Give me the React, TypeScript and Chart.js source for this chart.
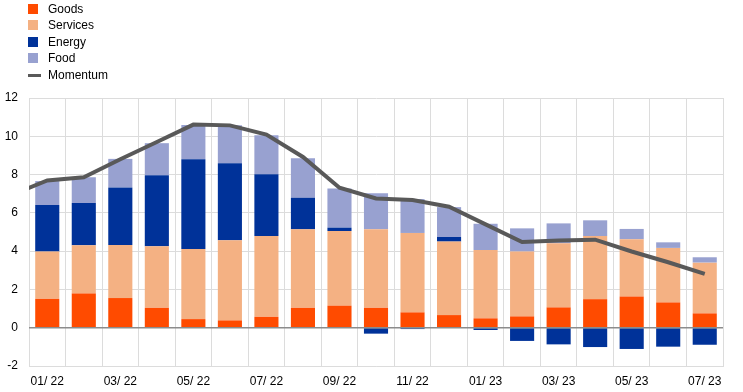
import React, { useEffect, useRef } from "react";
import { Chart, registerables } from "chart.js";

Chart.register(...registerables);

const labels = [
  "01/ 22", "02/ 22", "03/ 22", "04/ 22", "05/ 22", "06/ 22", "07/ 22", "08/ 22", "09/ 22", "10/ 22",
  "11/ 22", "12/ 22", "01/ 23", "02/ 23", "03/ 23", "04/ 23", "05/ 23", "06/ 23", "07/ 23",
];

const goods = [1.51, 1.79, 1.55, 1.04, 0.45, 0.38, 0.57, 1.04, 1.15, 1.04, 0.8, 0.66, 0.49, 0.59, 1.06, 1.49, 1.63, 1.32, 0.75];
const services = [2.47, 2.52, 2.77, 3.21, 3.66, 4.19, 4.22, 4.1, 3.9, 4.1, 4.15, 3.84, 3.57, 3.39, 3.35, 3.3, 2.99, 2.85, 2.65];
const energy = [2.43, 2.2, 3.01, 3.72, 4.69, 4.02, 3.23, 1.65, 0.18, -0.31, -0.07, 0.24, -0.12, -0.69, -0.87, -1.01, -1.11, -0.99, -0.89];
const food = [1.25, 1.35, 1.49, 1.67, 1.79, 1.98, 2.03, 2.06, 2.04, 1.89, 1.77, 1.56, 1.37, 1.21, 1.04, 0.82, 0.54, 0.29, 0.28];
const momentumPrev = 6.93; // 12/21, clipped at the plot's left edge
const momentum = [7.69, 7.86, 8.8, 9.7, 10.61, 10.57, 10.09, 8.92, 7.31, 6.75, 6.67, 6.32, 5.4, 4.48, 4.55, 4.6, 3.98, 3.42, 2.81];

const yMin = -2;
const yMax = 12;
const yStep = 2;

const COLORS = {
  goods: "#FF4B00",
  services: "#F4B183",
  energy: "#003299",
  food: "#98A1D0",
  momentum: "#595959",
};

const FONT = '"Liberation Sans", Arial, sans-serif';

const zeroLinePlugin = {
  id: "zeroLine",
  afterDatasetsDraw(chart: any) {
    const y = chart.scales.y.getPixelForValue(0);
    const { left, right } = chart.chartArea;
    const ctx = chart.ctx;
    ctx.save();
    ctx.strokeStyle = "#8c8c8c";
    ctx.lineWidth = 1.5;
    ctx.beginPath();
    ctx.moveTo(left, y);
    ctx.lineTo(right, y);
    ctx.stroke();
    ctx.restore();
  },
};

const legendItems = [
  { label: "Goods", color: COLORS.goods, kind: "box" },
  { label: "Services", color: COLORS.services, kind: "box" },
  { label: "Energy", color: COLORS.energy, kind: "box" },
  { label: "Food", color: COLORS.food, kind: "box" },
  { label: "Momentum", color: COLORS.momentum, kind: "line" },
];

export default function App() {
  const ref = useRef<HTMLCanvasElement | null>(null);

  useEffect(() => {
    if (!ref.current) return;
    const barCommon = {
      type: "bar" as const,
      stack: "s",
      xAxisID: "x",
      yAxisID: "y",
      order: 1,
      grouped: false,
      categoryPercentage: 1,
      barPercentage: 0.66,
      borderWidth: 0,
    };
    const chart = new Chart(ref.current, {
      type: "bar",
      data: {
        labels,
        datasets: [
          { ...barCommon, label: "Goods", data: goods, backgroundColor: COLORS.goods },
          { ...barCommon, label: "Services", data: services, backgroundColor: COLORS.services },
          { ...barCommon, label: "Energy", data: energy, backgroundColor: COLORS.energy },
          { ...barCommon, label: "Food", data: food, backgroundColor: COLORS.food },
          {
            type: "line" as const,
            label: "Momentum",
            xAxisID: "x2",
            yAxisID: "y2",
            order: 0,
            data: [{ x: -1, y: momentumPrev }, ...momentum.map((v, i) => ({ x: i, y: v }))] as any,
            borderColor: COLORS.momentum,
            backgroundColor: COLORS.momentum,
            borderWidth: 4,
            pointRadius: 0,
            tension: 0,
            clip: 0 as any,
          },
        ] as any,
      },
      options: {
        animation: false,
        responsive: true,
        maintainAspectRatio: false,
        layout: { padding: { top: 98, right: 20, left: 0, bottom: 0 } },
        plugins: { legend: { display: false }, tooltip: { enabled: false } },
        scales: {
          x: {
            type: "category",
            stacked: true,
            offset: true,
            grid: { offset: true, color: "#dcdcdc", lineWidth: 1, drawTicks: false },
            border: { color: "#dcdcdc" },
            ticks: {
              autoSkip: false,
              maxRotation: 0,
              padding: 8,
              color: "#000",
              font: { family: FONT, size: 12 },
              callback: (_v: any, i: number) => (i % 2 === 0 ? labels[i] : ""),
            },
            afterFit: (s: any) => {
              s.height = 26;
            },
          },
          x2: {
            type: "linear",
            display: false,
            offset: false,
            min: -0.5,
            max: labels.length - 0.5,
          },
          y: {
            stacked: true,
            min: yMin,
            max: yMax,
            grid: { color: "#dcdcdc", lineWidth: 1, drawTicks: false },
            border: { color: "#dcdcdc" },
            ticks: {
              stepSize: yStep,
              padding: 11,
              color: "#000",
              font: { family: FONT, size: 12 },
            },
            afterFit: (s: any) => {
              s.width = 29;
            },
          },
          y2: {
            type: "linear",
            display: false,
            stacked: false,
            min: yMin,
            max: yMax,
          },
        },
      } as any,
      plugins: [zeroLinePlugin],
    });
    return () => chart.destroy();
  }, []);

  return (
    <div style={{ position: "absolute", left: 0, top: 0, width: 743, height: 392, background: "#fff" }}>
      <canvas ref={ref} />
      <div style={{ position: "absolute", left: 0, top: 0, fontFamily: FONT, fontSize: 12, color: "#000" }}>
        {legendItems.map((it, i) => (
          <div
            key={it.label}
            style={{ position: "absolute", left: 0, top: 0.5 + i * 16.6, height: 16, width: 160 }}
          >
            {it.kind === "box" ? (
              <div style={{ position: "absolute", left: 28, top: 3, width: 10, height: 10, background: it.color }} />
            ) : (
              <div style={{ position: "absolute", left: 28, top: 7, width: 13, height: 3, background: it.color }} />
            )}
            <span style={{ position: "absolute", left: 48, top: 1, lineHeight: "14px", whiteSpace: "nowrap" }}>
              {it.label}
            </span>
          </div>
        ))}
      </div>
    </div>
  );
}
